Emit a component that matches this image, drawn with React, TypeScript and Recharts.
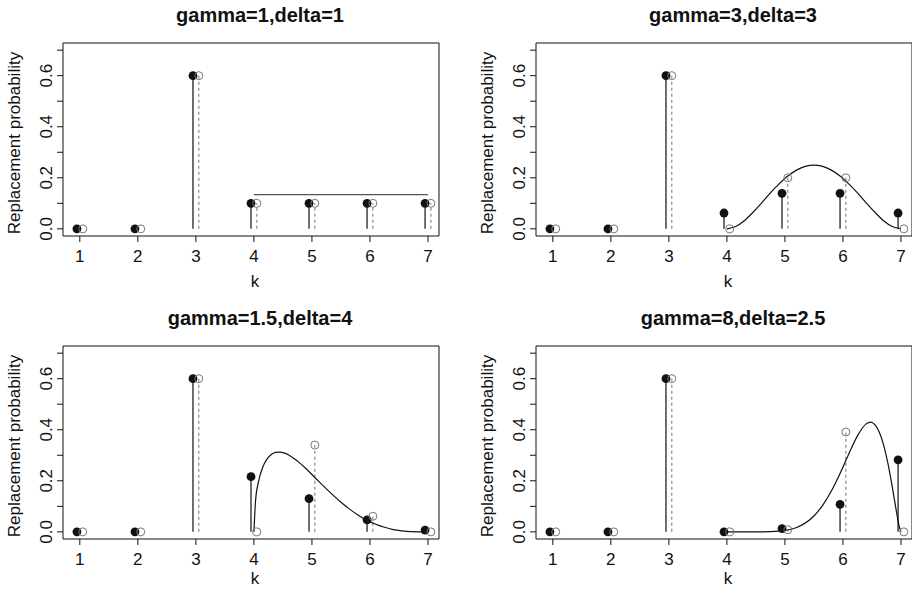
import React from 'react'
import { ComposedChart, Line, Scatter, XAxis, YAxis, ReferenceLine, ReferenceArea } from 'recharts'

const kValues = [1, 2, 3, 4, 5, 6, 7]
const titles = ['gamma=1,delta=1', 'gamma=3,delta=3', 'gamma=1.5,delta=4', 'gamma=8,delta=2.5']
const yTicks = [0, 0.1, 0.2, 0.3, 0.4, 0.5, 0.6, 0.7]

// filled dots (observed) and open circles (model) per panel
const filled1 = [0, 0, 0.6, 0.1, 0.1, 0.1, 0.1]
const open1 = [0, 0, 0.6, 0.1, 0.1, 0.1, 0.1]
const filled2 = [0, 0, 0.6, 0.062, 0.139, 0.139, 0.062]
const open2 = [0, 0, 0.6, 0, 0.2, 0.2, 0]
const filled3 = [0, 0, 0.6, 0.216, 0.13, 0.047, 0.007]
const open3 = [0, 0, 0.6, 0, 0.34, 0.061, 0]
const filled4 = [0, 0, 0.6, 0, 0.013, 0.108, 0.282]
const open4 = [0, 0, 0.6, 0, 0.008, 0.391, 0]

// smooth curves
const curveX1 = [4, 7]
const curveY1 = [0.134, 0.134]
const curveX2 = [4, 4.15, 4.3, 4.45, 4.6, 4.75, 4.9, 5.05, 5.2, 5.35, 5.5, 5.65, 5.8, 5.95, 6.1, 6.25, 6.4, 6.55, 6.7, 6.85, 7]
const curveY2 = [0, 0.009, 0.032, 0.065, 0.102, 0.141, 0.176, 0.207, 0.23, 0.245, 0.25, 0.245, 0.23, 0.207, 0.176, 0.141, 0.102, 0.065, 0.032, 0.009, 0]
const curveX3 = [4, 4.03, 4.075, 4.15, 4.225, 4.3, 4.375, 4.45, 4.6, 4.75, 4.9, 5.05, 5.2, 5.35, 5.5, 5.65, 5.8, 5.95, 6.1, 6.25, 6.4, 6.55, 6.7, 6.85, 7]
const curveY3 = [0, 0.127, 0.192, 0.252, 0.285, 0.303, 0.311, 0.312, 0.301, 0.277, 0.247, 0.213, 0.179, 0.147, 0.116, 0.089, 0.065, 0.045, 0.03, 0.018, 0.009, 0.004, 0.001, 0.0002, 0]
const curveX4 = [4, 4.3, 4.6, 4.9, 5.2, 5.5, 5.65, 5.8, 5.95, 6.1, 6.25, 6.4, 6.475, 6.55, 6.625, 6.7, 6.775, 6.85, 6.925, 6.97, 7]
const curveY4 = [0, 0, 0.0002, 0.003, 0.017, 0.062, 0.104, 0.16, 0.229, 0.305, 0.376, 0.423, 0.43, 0.42, 0.391, 0.341, 0.268, 0.176, 0.075, 0.021, 0]

const FONT = '"Liberation Sans", Arial, Helvetica, sans-serif'
const BOX_W = 376
const BOX_H = 193
const OFFSET = 0.05

const YTick = (props: any) => {
  const { x, y, payload } = props
  const v = payload.value
  if (Math.round(v * 10) % 2 !== 0) return <g />
  return (
    <text x={x} y={y} transform={`rotate(-90 ${x} ${y})`} textAnchor="middle" fontSize={17} fill="#111" fontFamily={FONT}>
      {v.toFixed(1)}
    </text>
  )
}

const FilledDot = (props: any) => <circle cx={props.cx} cy={props.cy} r={4.4} fill="#111" />
const OpenDot = (props: any) => <circle cx={props.cx} cy={props.cy} r={4} fill="none" stroke="#777" strokeWidth={1} />

interface PanelProps {
  left: number
  top: number
  kTop: number
  title: string
  filled: number[]
  open: number[]
  curveX: number[]
  curveY: number[]
  curveColor: string
}

function Panel({ left, top, kTop, title, filled, open, curveX, curveY, curveColor }: PanelProps) {
  const filledData = kValues.map((k, i) => ({ x: k - OFFSET, y: filled[i] }))
  const openData = kValues.map((k, i) => ({ x: k + OFFSET, y: open[i] }))
  const curveData = curveX.map((x, i) => ({ x, y: curveY[i] }))

  return (
    <>
      <div style={{ position: 'absolute', left: left + 197 - 150, top: top - 38, width: 300, textAlign: 'center', fontFamily: FONT, fontWeight: 'bold', fontSize: 20, lineHeight: '20px', color: '#111' }}>
        {title}
      </div>
      <div style={{ position: 'absolute', left: left - 48 - 150, top: top + 100 - 10, width: 300, height: 20, textAlign: 'center', fontFamily: FONT, fontSize: 17, lineHeight: '20px', color: '#111', transform: 'rotate(-90deg)' }}>
        Replacement probability
      </div>
      <div style={{ position: 'absolute', left: left + 192 - 20, top: kTop, width: 40, textAlign: 'center', fontFamily: FONT, fontSize: 17, lineHeight: '20px', color: '#111' }}>
        k
      </div>
      <div style={{ position: 'absolute', left: left - 60, top: top - 10 }}>
        <ComposedChart width={BOX_W + 70} height={BOX_H + 50} margin={{ top: 10, right: 10, bottom: 0, left: 0 }}>
          <XAxis
            type="number"
            dataKey="x"
            domain={[0.71, 7.19]}
            ticks={kValues}
            allowDataOverflow
            axisLine={false}
            tickSize={6}
            tickMargin={8}
            height={40}
            tickLine={{ stroke: '#111' }}
            tick={{ fontSize: 17, fill: '#111', fontFamily: FONT }}
          />
          <YAxis
            type="number"
            dataKey="y"
            domain={[-0.028, 0.728]}
            ticks={yTicks}
            allowDataOverflow
            axisLine={false}
            tickSize={6}
            tickMargin={5}
            width={60}
            tickLine={{ stroke: '#111' }}
            tick={<YTick />}
          />
          <ReferenceArea x1={0.71} x2={7.19} y1={-0.028} y2={0.728} fill="none" stroke="#111" strokeWidth={1} ifOverflow="visible" />
          {kValues.map((k, i) =>
            filled[i] > 0 ? (
              <ReferenceLine
                key={`s${k}`}
                segment={[{ x: k - OFFSET, y: 0 }, { x: k - OFFSET, y: filled[i] }]}
                stroke="#222"
                strokeWidth={1.3}
                ifOverflow="visible"
              />
            ) : null
          )}
          {kValues.map((k, i) =>
            open[i] > 0 ? (
              <ReferenceLine
                key={`d${k}`}
                segment={[{ x: k + OFFSET, y: 0 }, { x: k + OFFSET, y: open[i] }]}
                stroke="#888"
                strokeWidth={1.2}
                strokeDasharray="3 3"
                ifOverflow="visible"
              />
            ) : null
          )}
          <Line data={curveData} dataKey="y" type="monotone" dot={false} stroke={curveColor} strokeWidth={1.2} isAnimationActive={false} />
          <Scatter data={filledData} dataKey="y" shape={<FilledDot />} isAnimationActive={false} />
          <Scatter data={openData} dataKey="y" shape={<OpenDot />} isAnimationActive={false} />
        </ComposedChart>
      </div>
    </>
  )
}

export default function App() {
  return (
    <div style={{ position: 'absolute', left: 0, top: 0, width: 912, height: 591, overflow: 'hidden', background: '#fff' }}>
      <Panel left={63} top={43} kTop={272} title={titles[0]} filled={filled1} open={open1} curveX={curveX1} curveY={curveY1} curveColor="#555" />
      <Panel left={536} top={43} kTop={272} title={titles[1]} filled={filled2} open={open2} curveX={curveX2} curveY={curveY2} curveColor="#111" />
      <Panel left={63} top={346} kTop={569} title={titles[2]} filled={filled3} open={open3} curveX={curveX3} curveY={curveY3} curveColor="#111" />
      <Panel left={536} top={346} kTop={569} title={titles[3]} filled={filled4} open={open4} curveX={curveX4} curveY={curveY4} curveColor="#111" />
    </div>
  )
}
